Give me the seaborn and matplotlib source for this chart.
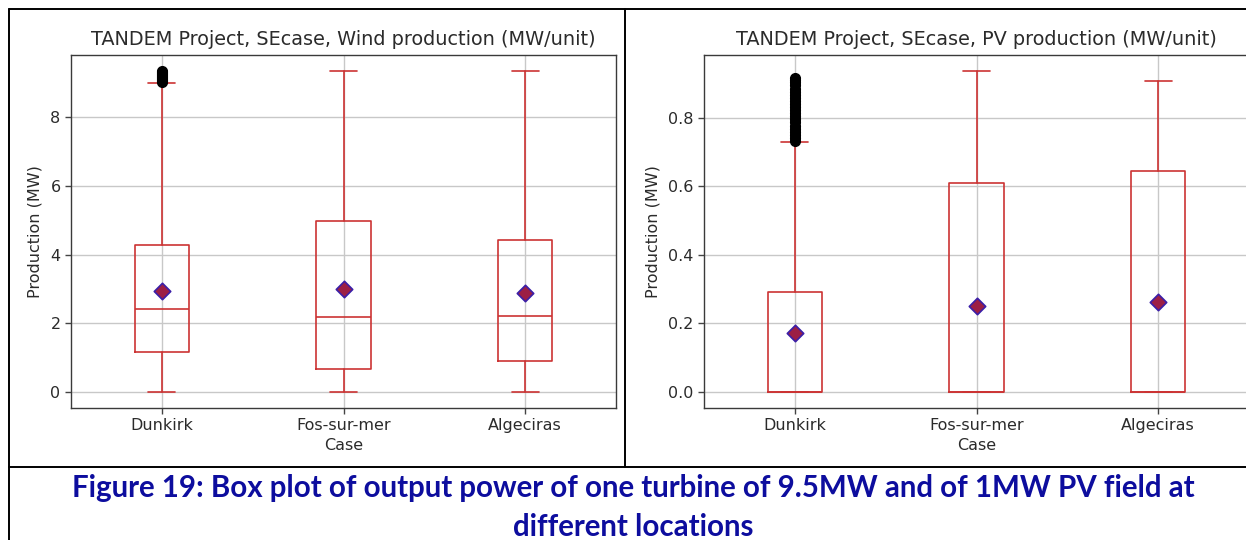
import matplotlib
matplotlib.use("Agg")
import matplotlib.pyplot as plt
import seaborn as sns
from matplotlib.lines import Line2D

# Values
cases = ["Dunkirk", "Fos-sur-mer", "Algeciras"]

wind_whislo = [0.0, 0.0, 0.0]
wind_q1 = [1.15, 0.67, 0.89]
wind_med = [2.41, 2.17, 2.20]
wind_q3 = [4.29, 4.97, 4.43]
wind_whishi = [9.00, 9.33, 9.33]
wind_mean = [2.94, 3.01, 2.87]
wind_fliers = [
    [9.01, 9.04, 9.07, 9.10, 9.13, 9.16, 9.19, 9.22, 9.25, 9.28, 9.31, 9.34],
    [],
    [],
]

pv_whislo = [0.0, 0.0, 0.0]
pv_q1 = [0.0, 0.0, 0.0]
pv_med = [0.0, 0.0, 0.0]
pv_q3 = [0.291, 0.611, 0.645]
pv_whishi = [0.731, 0.937, 0.907]
pv_mean = [0.172, 0.250, 0.264]
pv_fliers = [
    [0.733, 0.742, 0.751, 0.760, 0.769, 0.778, 0.787, 0.796, 0.805, 0.814,
     0.823, 0.832, 0.841, 0.850, 0.859, 0.868, 0.877, 0.886, 0.895, 0.904,
     0.912, 0.918],
    [],
    [],
]

titles = [
    "TANDEM Project, SEcase, Wind production (MW/unit)",
    "TANDEM Project, SEcase, PV production (MW/unit)",
]
caption_1 = "Figure 19: Box plot of output power of one turbine of 9.5MW and of 1MW PV field at"
caption_2 = "different locations"

BOX_COLOR = "#cc3333"
TEXT_COLOR = "#2b2b2b"
W, H = 1246, 540


def build_stats(lo, q1, med, q3, hi, fliers):
    """Turn the separate arrays into the dicts that Axes.bxp wants."""
    stats = []
    for i, name in enumerate(cases):
        stats.append(dict(label=name, whislo=lo[i], q1=q1[i], med=med[i],
                          q3=q3[i], whishi=hi[i], fliers=fliers[i]))
    return stats


def draw_panel(ax, stats, means, title):
    positions = [1, 2, 3]
    line = dict(color=BOX_COLOR, linewidth=1.2)
    ax.bxp(stats, positions=positions, widths=0.3, showfliers=True,
           boxprops=line, whiskerprops=line, capprops=line, medianprops=line,
           flierprops=dict(marker="o", markerfacecolor="black",
                           markeredgecolor="black", markersize=7))
    sns.scatterplot(x=positions, y=means, marker="D", s=70, color="#9c1f45",
                    edgecolor="#3b1fa8", linewidth=1.2, ax=ax, zorder=5,
                    legend=False)
    ax.set_xlim(0.5, 3.5)
    ax.set_xticks(positions, cases)
    ax.grid(True, color="#c8c8c8", linewidth=1.0)
    ax.set_axisbelow(True)
    ax.set_title(title, fontsize=13.9, color=TEXT_COLOR, pad=7)
    ax.set_xlabel("Case", fontsize=11.5, color=TEXT_COLOR, labelpad=3)
    ax.set_ylabel("Production (MW)", fontsize=11.5, color=TEXT_COLOR)
    ax.tick_params(axis="both", which="major", labelsize=11.5,
                   labelcolor=TEXT_COLOR, color="#444444", length=4.5,
                   width=1.0, direction="out", bottom=True, left=True, pad=3)
    for sp in ax.spines.values():
        sp.set_visible(True)
        sp.set_color("#3a3a3a")
        sp.set_linewidth(1.0)


sns.set_style("ticks")
plt.rcParams["font.family"] = ["DejaVu Sans"]
plt.rcParams["xtick.major.size"] = 4.5
plt.rcParams["ytick.major.size"] = 4.5

fig = plt.figure(figsize=(W / 100, H / 100), dpi=100)
fig.patch.set_facecolor("white")

ax_top, ax_bot = 55, 408
ax_left = fig.add_axes([71 / W, 1 - ax_bot / H, 545 / W, (ax_bot - ax_top) / H])
ax_right = fig.add_axes([704 / W, 1 - ax_bot / H, 545 / W, (ax_bot - ax_top) / H])

draw_panel(ax_left, build_stats(wind_whislo, wind_q1, wind_med, wind_q3,
                                wind_whishi, wind_fliers), wind_mean, titles[0])
draw_panel(ax_right, build_stats(pv_whislo, pv_q1, pv_med, pv_q3,
                                 pv_whishi, pv_fliers), pv_mean, titles[1])
ax_left.yaxis.set_label_coords(-0.053, 0.5)
ax_right.yaxis.set_label_coords(-0.079, 0.5)

# Table borders of the document cell around the figure
border = dict(color="black", linewidth=1.4, transform=fig.transFigure)
for (x0, y0, x1, y1) in [(9, 9, W, 9), (9, 9, 9, H), (625, 9, 625, 467),
                         (9, 467, W, 467)]:
    fig.add_artist(Line2D([x0 / W, x1 / W], [1 - y0 / H, 1 - y1 / H], **border))

# Caption, scaled to the width it has in the reference
cap_font = ["Lato", "DejaVu Sans"]
t1 = fig.text(633 / W, 1 - 497 / H, caption_1, ha="center", va="baseline",
              fontsize=20, fontweight="bold", color="#0d0d9e", family=cap_font)
t2 = fig.text(633 / W, 1 - 536 / H, caption_2, ha="center", va="baseline",
              fontsize=20, fontweight="bold", color="#0d0d9e", family=cap_font)
renderer = fig.canvas.get_renderer()
width_now = t1.get_window_extent(renderer).width
new_size = 20 * 1126 / width_now
t1.set_fontsize(new_size)
t2.set_fontsize(new_size)

fig.savefig("out.png", dpi=100)
